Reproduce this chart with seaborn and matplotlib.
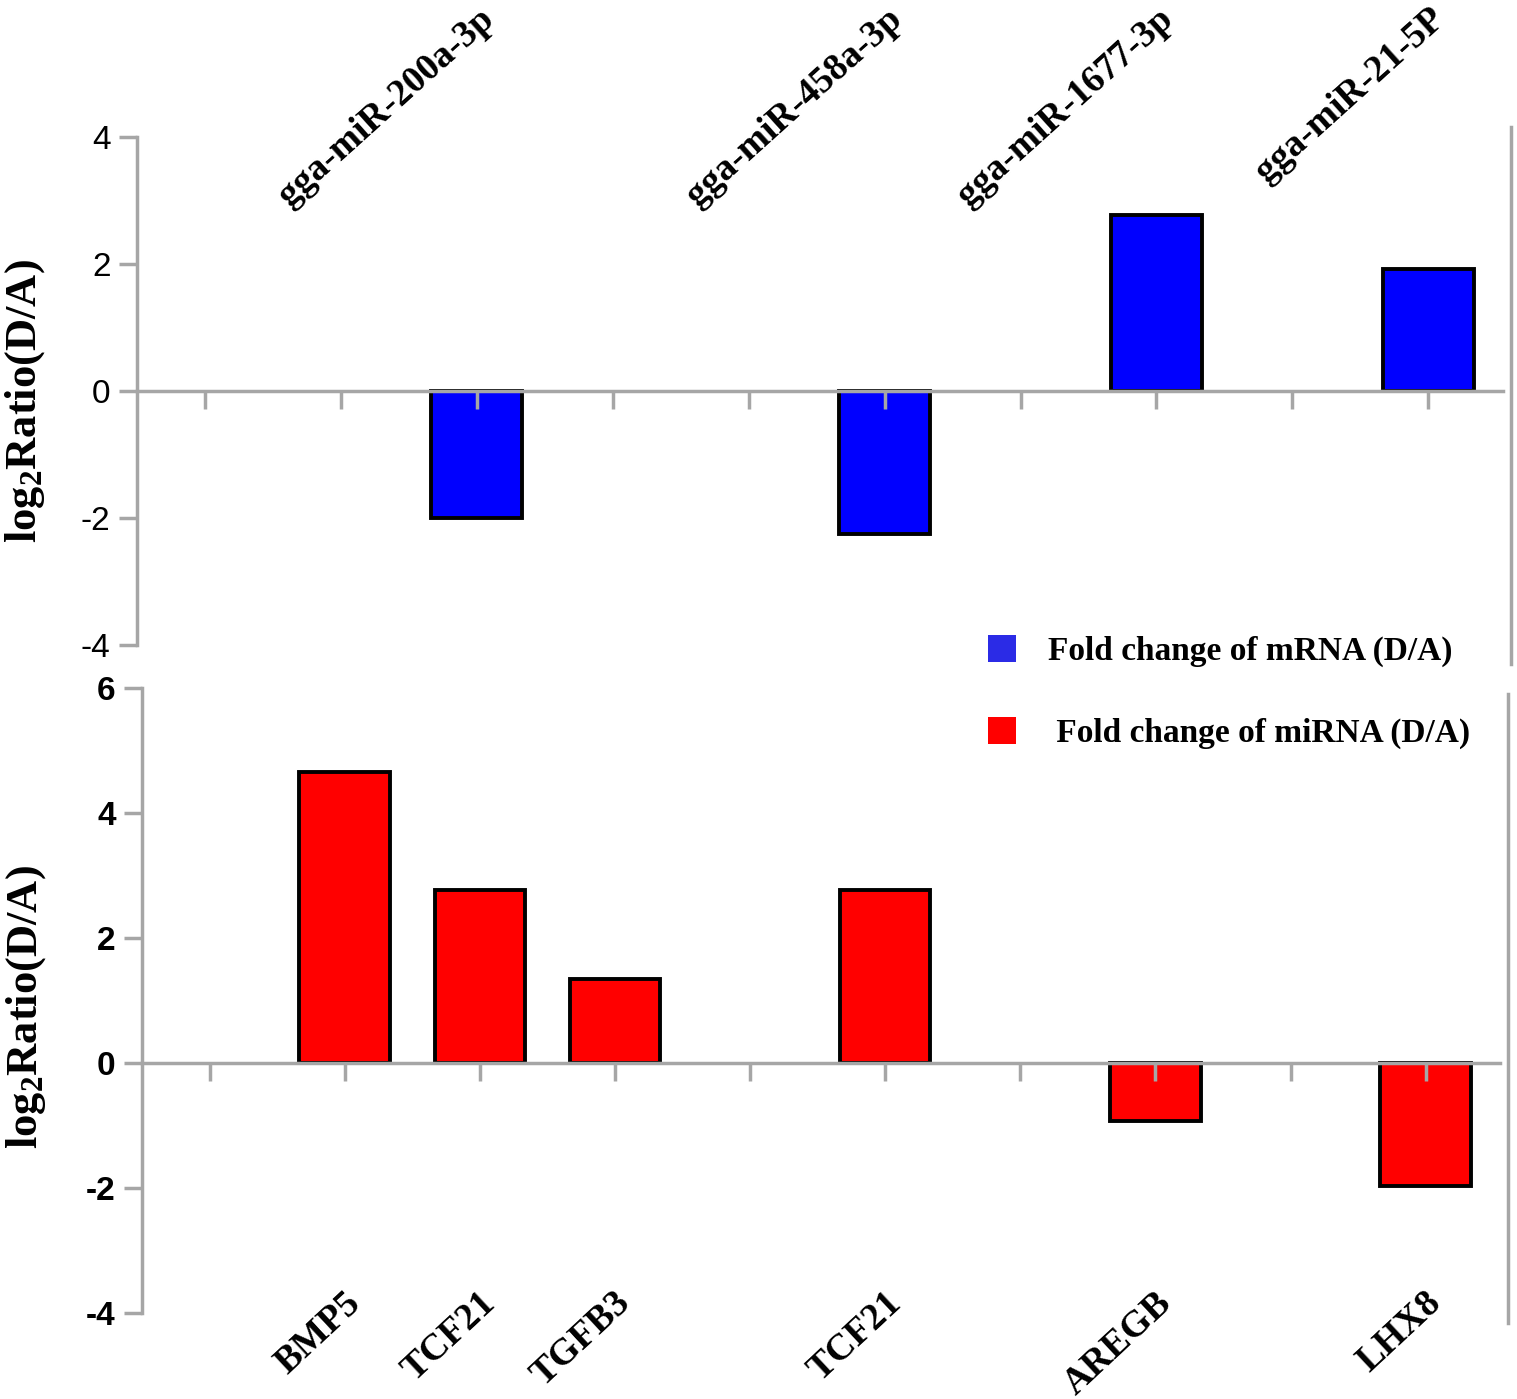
import numpy as np
import pandas as pd
import matplotlib
matplotlib.use('Agg')
import matplotlib.pyplot as plt
from matplotlib.patches import Patch
import seaborn as sb

# ten positions along the x axis, bars only sit on some of them
slots = [str(i) for i in range(10)]

mrna_slots = [2, 5, 7, 9]
mrna_labels = ['gga-miR-200a-3p', 'gga-miR-458a-3p', 'gga-miR-1677-3p', 'gga-miR-21-5P']
mrna_fc = [-2.0, -2.25, 2.77, 1.92]

mirna_slots = [1, 2, 3, 5, 7, 9]
mirna_labels = ['BMP5', 'TCF21', 'TGFB3', 'TCF21', 'AREGB', 'LHX8']
mirna_fc = [4.66, 2.77, 1.35, 2.77, -0.93, -1.97]

top_ticks = [-4, -2, 0, 2, 4]
bottom_ticks = [-4, -2, 0, 2, 4, 6]

gray = '#a6a6a6'

sb.set_style('white')
plt.rcParams['font.family'] = ['Liberation Serif', 'DejaVu Serif']
plt.rcParams['text.color'] = 'black'
plt.rcParams['axes.labelcolor'] = 'black'
plt.rcParams['ytick.labelcolor'] = 'black'
plt.rcParams['mathtext.fontset'] = 'custom'
plt.rcParams['mathtext.rm'] = 'Liberation Serif:bold'
plt.rcParams['mathtext.it'] = 'Liberation Serif:bold'
plt.rcParams['mathtext.bf'] = 'Liberation Serif:bold'

fig = plt.figure(figsize=(15.17, 13.99), dpi=100)
ax1 = fig.add_axes([0.0903, 0.5390, 0.9005, 0.3631])
ax2 = fig.add_axes([0.0936, 0.0615, 0.8952, 0.4467])


def draw_panel(ax, pos, vals, color, ylim, ticks, tick_weight, spine_right):
    df = pd.DataFrame({'slot': [str(p) for p in pos], 'value': vals})
    sb.barplot(data=df, x='slot', y='value', order=slots, color=color, saturation=1,
               edgecolor='black', linewidth=2.8, width=0.67, ax=ax)
    ax.set_axisbelow(False)
    ax.set_xlim(-0.5, 9.55)
    ax.set_ylim(*ylim)
    ax.set_xlabel('')
    ax.spines['top'].set_visible(False)
    ax.spines['bottom'].set_position(('data', 0))
    ax.spines['right'].set_position(('outward', 6))
    ax.spines['right'].set_bounds(*spine_right)
    for side in ['left', 'bottom', 'right']:
        ax.spines[side].set_color(gray)
        ax.spines[side].set_linewidth(2.5)
    ax.tick_params(axis='x', direction='out', length=13, width=2.5, color=gray,
                   labelbottom=False, bottom=True)
    ax.tick_params(axis='y', direction='out', length=13, width=2.5, color=gray,
                   pad=6, left=True, right=False, labelsize=24, labelcolor='black')
    ax.set_yticks(ticks)
    ax.set_yticklabels([str(t) for t in ticks])
    for lbl in ax.get_yticklabels():
        lbl.set_fontfamily('Liberation Sans')
        lbl.set_fontweight(tick_weight)
        lbl.set_fontsize(24)
    ax.set_ylabel(r'log$_{2}$Ratio(D/A)', fontsize=32, fontweight='bold')


draw_panel(ax1, mrna_slots, mrna_fc, '#0000ff', (-4, 4), top_ticks, 'normal', (-4.3, 4.16))
draw_panel(ax2, mirna_slots, mirna_fc, '#ff0000', (-4, 6), bottom_ticks, 'bold', (-4.16, 5.9))
ax1.yaxis.set_label_coords(-0.066, 0.48)
ax2.yaxis.set_label_coords(-0.069, 0.49)

for s, lab in zip(mrna_slots, mrna_labels):
    ax1.text(s + 0.09, 5.93, lab, rotation=42, rotation_mode='anchor', ha='right',
             va='center', fontsize=27, fontweight='bold')

for s, lab in zip(mirna_slots, mirna_labels):
    ax2.text(s + 0.08, -3.76, lab, rotation=43, rotation_mode='anchor', ha='right',
             va='center', fontsize=27, fontweight='bold')

handles = [Patch(facecolor='#2b2be6', edgecolor='none', label='Fold change of mRNA (D/A)'),
           Patch(facecolor='#ff0000', edgecolor='none', label=' Fold change of miRNA (D/A)')]
fig.legend(handles=handles, loc='upper left', bbox_to_anchor=(0.651, 0.546), frameon=False,
           prop=dict(family='Liberation Serif', weight='bold', size=24),
           handlelength=0.85, handleheight=0.85, handletextpad=0.95,
           labelspacing=1.5, borderpad=0, borderaxespad=0)

fig.savefig('out.png', dpi=100)
